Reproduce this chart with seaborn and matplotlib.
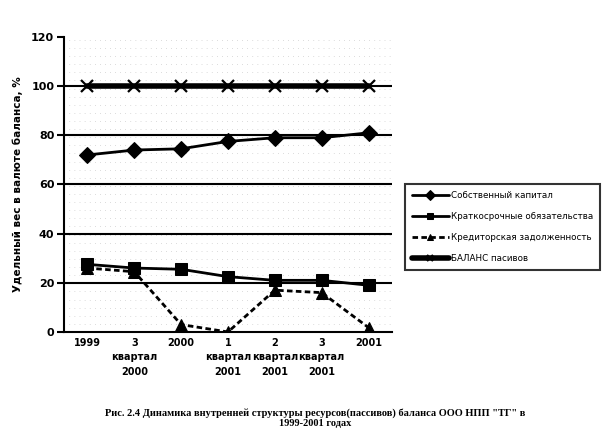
import matplotlib
matplotlib.use("Agg")
import matplotlib.pyplot as plt
import seaborn as sns
import numpy as np
import pandas as pd

# Данные (в % к итогу пассивов)
periods = ["1999", "3\nквартал\n2000", "2000", "1\nквартал\n2001",
           "2\nквартал\n2001", "3\nквартал\n2001", "2001"]
own_capital = [72, 74, 74.5, 77.5, 79, 79, 81]
short_liab = [27.5, 26, 25.5, 22.5, 21, 21, 19]
creditors = [26, 24.5, 3, 0, 17, 16, 1.8]
balance = [100, 100, 100, 100, 100, 100, 100]

series_names = ["Собственный капитал", "Краткосрочные обязательства",
                "Кредиторская задолженность", "БАЛАНС пасивов"]

sns.set_theme(style="white", rc={"text.color": "black", "axes.labelcolor": "black",
                                 "xtick.color": "black", "ytick.color": "black"})
plt.rcParams['font.family'] = ['DejaVu Sans']

fig = plt.figure(figsize=(6.13, 4.45), dpi=100)
ax = fig.add_axes([0.1044, 0.254, 0.535, 0.663])

x = np.arange(len(periods))
df = pd.DataFrame({"x": x, series_names[0]: own_capital, series_names[1]: short_liab,
                   series_names[2]: creditors, series_names[3]: balance})

# фон в точку, как в Excel
for yy in np.arange(3.3, 120, 3.3):
    ax.axhline(yy, color="#b0b0b0", lw=0.6, ls=(0, (0.6, 5.5)), zorder=0)
for yv in [20, 40, 60, 80, 100]:
    ax.axhline(yv, color="black", lw=1.5, zorder=1)

sns.lineplot(data=df, x="x", y=series_names[0], ax=ax, color="black", lw=2,
             marker="D", markersize=8, mec="black", label=series_names[0], zorder=3)
sns.lineplot(data=df, x="x", y=series_names[1], ax=ax, color="black", lw=2,
             marker="s", markersize=9, mec="black", label=series_names[1], zorder=3)
sns.lineplot(data=df, x="x", y=series_names[2], ax=ax, color="black", lw=2,
             marker="^", markersize=9, mec="black", linestyle=(0, (2, 1.2)),
             label=series_names[2], zorder=3)
sns.lineplot(data=df, x="x", y=series_names[3], ax=ax, color="black", lw=4,
             marker="x", markersize=9, markeredgewidth=1.6, mec="black",
             label=series_names[3], zorder=3)

ax.set_xlim(-0.5, 6.5)
ax.set_ylim(0, 120)
ax.set_yticks(range(0, 121, 20))
ax.set_yticklabels([str(v) for v in range(0, 121, 20)], fontsize=8, fontweight="bold")
ax.set_xticks(np.arange(-0.5, 7, 1))
ax.set_xticklabels([])
ax.set_xticks(x, minor=True)
ax.set_xticklabels(periods, minor=True, fontsize=7, fontweight="bold", linespacing=1.6)
ax.tick_params(axis="x", which="major", direction="out", length=4, width=1.5, color="black")
ax.tick_params(axis="x", which="minor", length=0, pad=4)
ax.tick_params(axis="y", direction="out", length=5, width=1.5, color="black", pad=2, left=True)
ax.set_xlabel("")
ax.set_ylabel("Удельный вес в валюте баланса, %", fontsize=7.5, fontweight="bold", labelpad=6)

sns.despine(ax=ax)
ax.spines["left"].set_color("black")
ax.spines["left"].set_linewidth(1.5)
ax.spines["bottom"].set_color("black")
ax.spines["bottom"].set_linewidth(1.5)

leg = ax.legend(loc="upper left", bbox_to_anchor=(1.025, 0.515), fontsize=6.3,
                frameon=True, fancybox=False, edgecolor="black", handlelength=4.3,
                labelspacing=1.35, borderpad=0.8, handletextpad=0.2)
leg.get_frame().set_linewidth(1.5)
for h in leg.legend_handles:
    h.set_markersize(5)

fig.text(0.514, 0.06, 'Рис. 2.4 Динамика внутренней структуры ресурсов(пассивов) баланса ООО НПП "ТГ" в\n1999-2001 годах',
         ha="center", va="center", fontsize=7.5, fontweight="bold", family="Liberation Serif")

fig.savefig("out.png", dpi=100)
